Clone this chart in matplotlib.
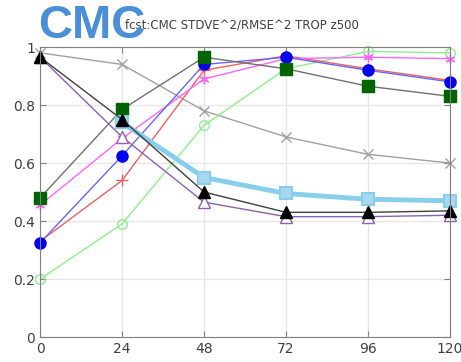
import numpy as np
import matplotlib.pyplot as plt

hours = [0, 24, 48, 72, 96, 120]

black_tri = [0.965, 0.75, 0.50, 0.43, 0.43, 0.435]
purple_tri = [0.965, 0.69, 0.465, 0.415, 0.415, 0.42]
cyan_sq_hours = [24, 48, 72, 96, 120]
cyan_sq = [0.74, 0.55, 0.495, 0.475, 0.47]
grey_x = [0.98, 0.94, 0.78, 0.69, 0.63, 0.60]
green_sq = [0.48, 0.785, 0.965, 0.925, 0.865, 0.83]
blue_circ = [0.325, 0.625, 0.94, 0.965, 0.92, 0.88]
red_plus = [0.33, 0.54, 0.92, 0.97, 0.925, 0.885]
magenta_star = [0.455, 0.685, 0.89, 0.96, 0.965, 0.96]
lgreen_circ = [0.20, 0.39, 0.73, 0.925, 0.985, 0.98]

fig = plt.figure(figsize=(4.61, 3.62), dpi=100)
ax = fig.add_axes([0.087, 0.069, 0.889, 0.801])

ax.plot(hours, grey_x, color='#a0a0a0', lw=1, marker='x', ms=7, mew=1)
ax.plot(hours, lgreen_circ, color='#90ee90', lw=1, marker='o', ms=7, mfc='none', mec='#90ee90')
ax.plot(hours, red_plus, color='#f06060', lw=1, marker='+', ms=8, mew=1)
ax.plot(hours, magenta_star, color='#ff66ff', lw=1, marker=(6, 2, 0), ms=7, mew=1)
ax.plot(hours, blue_circ, color='#6666ff', lw=1, marker='o', ms=8, mfc='#0000ee', mec='#0000ee')
ax.plot(hours, green_sq, color='#707070', lw=1, marker='s', ms=8, mfc='#006400', mec='#006400')
ax.plot(cyan_sq_hours, cyan_sq, color='#87ceeb', lw=3.5, marker='s', ms=9, mfc='#a8d8f0', mec='#87ceeb', mew=1.5)
ax.plot(hours, purple_tri, color='#9060b0', lw=1, marker='^', ms=8, mfc='white', mec='#9060b0')
ax.plot(hours, black_tri, color='#404040', lw=1, marker='^', ms=8, mfc='black', mec='black')

ax.set_xlim(0, 120)
ax.set_ylim(0, 1)
ax.set_xticks(hours)
ax.set_yticks([0, 0.2, 0.4, 0.6, 0.8, 1])
ax.set_yticklabels(['0', '0.2', '0.4', '0.6', '0.8', '1'])
ax.grid(True, color='#e6e6e6', lw=1)
ax.set_axisbelow(True)
ax.tick_params(direction='in', length=4, color='#808080', labelsize=10, labelcolor='#404040',
               top=True, right=True)
for s in ax.spines.values():
    s.set_color('#808080')
for m in ax.lines:
    m.set_clip_on(False)

fig.text(0.271, 0.93, 'fcst:CMC STDVE^2/RMSE^2 TROP z500', fontsize=8.5, color='#404040', va='center')
fig.text(0.082, 0.928, 'CMC', fontsize=34, fontweight='bold', color='#4a8fd8', va='center',
         family='Liberation Sans')

fig.savefig('out.png', dpi=100)
